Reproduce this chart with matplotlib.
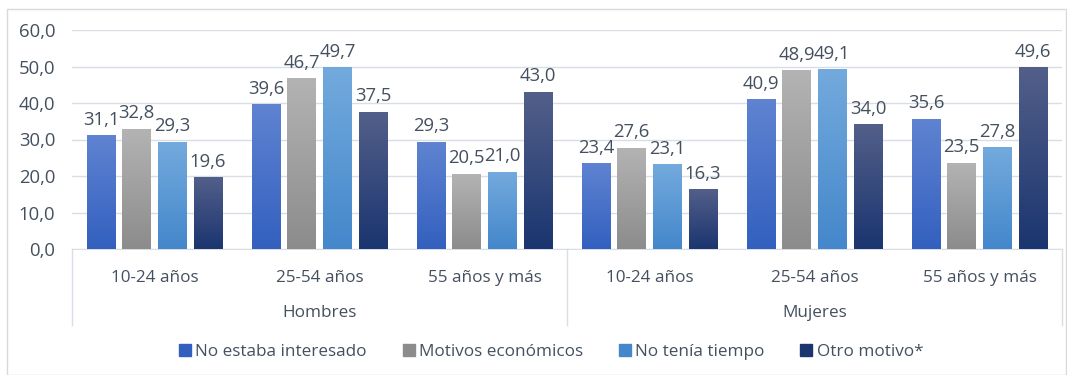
import numpy as np
import matplotlib.pyplot as plt
from matplotlib.colors import LinearSegmentedColormap
from matplotlib.patches import Rectangle
from matplotlib.transforms import blended_transform_factory

plt.rcParams['font.family'] = ['Open Sans', 'DejaVu Sans']

grupos_edad = ['10-24 años', '25-54 años', '55 años y más'] * 2
sexos = ['Hombres', 'Mujeres']
motivos = ['No estaba interesado', 'Motivos económicos', 'No tenía tiempo', 'Otro motivo*']

no_interesado = [31.1, 39.6, 29.3, 23.4, 40.9, 35.6]
economicos = [32.8, 46.7, 20.5, 27.6, 48.9, 23.5]
sin_tiempo = [29.3, 49.7, 21.0, 23.1, 49.1, 27.8]
otro = [19.6, 37.5, 43.0, 16.3, 34.0, 49.6]
series = [no_interesado, economicos, sin_tiempo, otro]

# (color arriba, color abajo) para el degradado de cada serie
degradados = [('#5f83d1', '#3360bf'),
              ('#b3b3b3', '#8c8c8c'),
              ('#73aadd', '#4487cb'),
              ('#525f89', '#1b3570')]
texto = '#44505f'
rejilla = '#d9dee6'
fs = 12.3
fs_num = 13.3

fig = plt.figure(figsize=(10.67, 3.75), dpi=100)
W, H = 1067, 375
ax = fig.add_axes([72 / W, 1 - 249 / H, 990 / W, 219 / H])

x = np.arange(len(grupos_edad))
paso = 0.2164
ancho = 0.173
for i, valores in enumerate(series):
    pos = x + (i - 1.5) * paso
    cmap = LinearSegmentedColormap.from_list('g%d' % i, [degradados[i][1], degradados[i][0]])
    barras = ax.bar(pos, valores, ancho, color=degradados[i][1], zorder=2, label=motivos[i])
    for b, v in zip(barras, valores):
        grad = np.linspace(0, 1, 100).reshape(-1, 1)
        ax.imshow(grad, cmap=cmap, origin='lower', aspect='auto', zorder=3,
                  extent=[b.get_x(), b.get_x() + b.get_width(), 0, v])
        ax.annotate(f'{v:.1f}'.replace('.', ','), (b.get_x() + b.get_width() / 2, v),
                    xytext=(0, 5), textcoords='offset points', ha='center', va='bottom',
                    fontsize=fs_num, color=texto)

ax.set_xlim(-0.5, 5.5)
ax.set_ylim(0, 60)
ax.set_yticks(np.arange(0, 61, 10))
ax.set_yticklabels([f'{t:.1f}'.replace('.', ',') for t in np.arange(0, 61, 10)])
ax.tick_params(axis='y', length=0, pad=12, labelsize=fs_num, labelcolor=texto)
ax.set_xticks([])
ax.grid(axis='y', color=rejilla, linewidth=1, zorder=0)
for s in ['top', 'right', 'left']:
    ax.spines[s].set_visible(False)
ax.spines['bottom'].set_color(rejilla)

# ejes de categorías en dos niveles
tr = blended_transform_factory(ax.transData, ax.transAxes)
fondo = -76 / 219
for xs in [-0.5, 2.5, 5.5]:
    ax.plot([xs, xs], [0, fondo], transform=tr, color=rejilla, lw=1, clip_on=False)
for xi, etiqueta in zip(x, grupos_edad):
    ax.text(xi, -29 / 219, etiqueta, transform=tr, ha='center', va='center',
            fontsize=fs, color=texto)
for xi, etiqueta in zip([1, 4], sexos):
    ax.text(xi, -64 / 219, etiqueta, transform=tr, ha='center', va='center',
            fontsize=fs, color=texto)

handles = [Rectangle((0, 0), 1, 1, color=c[1]) for c in degradados]
fig.legend(handles, motivos, loc='center', bbox_to_anchor=(551 / W, 1 - 352 / H),
           ncol=4, frameon=False, fontsize=fs, labelcolor=texto,
           handlelength=0.7, handleheight=0.7, handletextpad=0.25, columnspacing=2.1)

fig.add_artist(Rectangle((7 / W, 0), 1059 / W, 1 - 9 / H, transform=fig.transFigure,
                         fill=False, edgecolor='#d9d9d9', lw=1))

fig.savefig('out.png', dpi=100)
